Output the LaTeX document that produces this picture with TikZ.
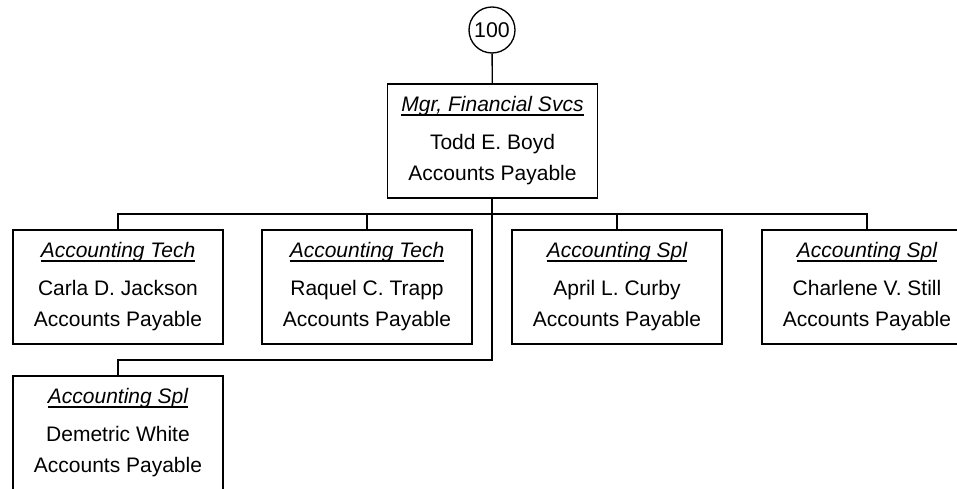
\documentclass[tikz,border=0pt]{standalone}
\usepackage{fontspec}
\setmainfont{Liberation Sans}
\newcommand\postline[1]{\setbox0\hbox{\itshape #1}%
    \leavevmode\rlap{\raisebox{-3pt}{\rule{\wd0}{1.3pt}}}\box0}
\begin{document}
\begin{tikzpicture}[x=0.75pt,y=0.75pt,line width=1pt,
        post/.style={draw, rectangle, inner sep=0pt, align=center,
            minimum width=157.5pt, minimum height=85.5pt,
            font=\fontsize{15.75}{23.25}\selectfont},
        unit/.style={draw, circle, inner sep=0pt, minimum size=34.5pt,
            font=\fontsize{16}{18}\selectfont}]
        \useasboundingbox (0,0) rectangle (957,489);
        \node[unit] (A) at (492,459) {100};
        \node[post] (B) at (492.5,348)
        {\postline{Mgr, Financial Svcs}\\[5.25pt]
            Todd E. Boyd\\ Accounts Payable};
        \node[post] (C) at (118,202)
        {\postline{Accounting Tech}\\[5.25pt]
            Carla D. Jackson\\ Accounts Payable};
        \node[post] (D) at (367,202)
        {\postline{Accounting Tech}\\[5.25pt]
            Raquel C. Trapp\\ Accounts Payable};
        \node[post] (E) at (617,202)
        {\postline{Accounting Spl}\\[5.25pt]
            April L. Curby\\ Accounts Payable};
        \node[post] (F) at (867,202)
        {\postline{Accounting Spl}\\[5.25pt]
            Charlene V. Still\\ Accounts Payable};
        \node[post] (G) at (118,56)
        {\postline{Accounting Spl}\\[5.25pt]
            Demetric White\\ Accounts Payable};
        \coordinate (J) at (492,275);
        \coordinate (K) at (492,129);
        \draw (A) -- (B);
        \draw (B.south -| J) -- (K) -| (G.north);
        \draw (C.north) |- (J) -| (F.north);
        \draw (D.north) |- (J);
        \draw (E.north) |- (J);
    \end{tikzpicture}
\end{document}
